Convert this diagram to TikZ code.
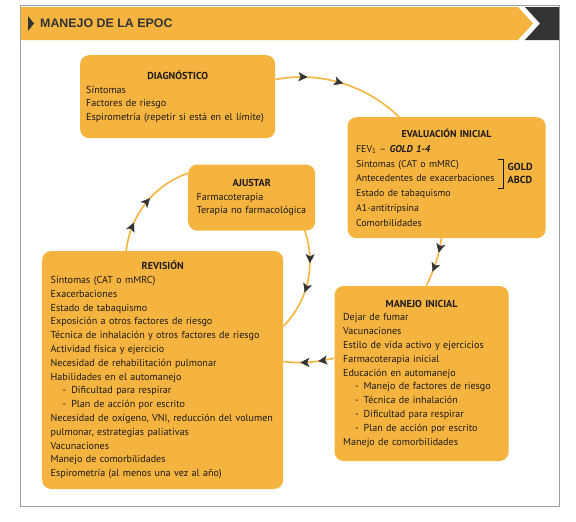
\documentclass[tikz,border=0pt]{standalone}
\usepackage{fontspec}
\setmainfont{PT Sans}
\newfontfamily\headfont{Liberation Sans}
\usepackage{xcolor}
\usetikzlibrary{arrows.meta, positioning, decorations.markings}

\definecolor{epocyellow}{HTML}{F5B43F}
\definecolor{epocdark}{HTML}{333333}
\definecolor{epoctext}{HTML}{1E1A18}
\definecolor{framegray}{HTML}{A0A0A0}

\newcommand{\subln}[1]{\hspace*{12pt}-\hspace{5pt}#1}
\newcommand{\boxtitle}[1]{{\centering\bfseries #1\par}}

\tikzset{
  box/.style={rectangle, rounded corners=9pt, fill=epocyellow, text=epoctext,
    anchor=north west, inner xsep=8.5pt, inner ysep=3pt, align=left,
    font=\fontsize{10.1}{13.8}\selectfont},
  cycline/.style={draw=epocyellow, line width=1.6pt},
  flow/.style 2 args={postaction={decorate}, decoration={markings,
    mark=at position #1 with {\arrow{Stealth[length=9pt, width=9pt, inset=2.2pt, line width=0.4pt, color=epocdark]}},
    mark=at position #2 with {\arrow{Stealth[length=9pt, width=9pt, inset=2.2pt, line width=0.4pt, color=epocdark]}}}},
  gold/.style={font=\bfseries\fontsize{10.2}{13}\selectfont, text=epoctext, align=left, inner sep=0pt}
}

\begin{document}
\begin{tikzpicture}[x=1pt, y=1pt]

    \fill[white] (0,0) rectangle (576,-522);
    \useasboundingbox (0,0) rectangle (576,-522);

    % header bar
    \draw[framegray, line width=0.8pt] (20,-5) rectangle (559,-506);
    \fill[epocyellow] (21,-7) -- (518,-7) -- (533,-23.5) -- (518,-40) -- (21,-40) -- cycle;
    \fill[epocdark] (525,-7) -- (559,-7) -- (559,-40) -- (525,-40) -- (540,-23.5) -- cycle;
    \fill[epocdark] (28,-16) -- (34,-23.5) -- (28,-31) -- cycle;
    \node[anchor=west, font=\headfont\bfseries\fontsize{12.4}{14}\selectfont, text=epocdark, inner sep=0pt] (title) at (40,-23.5) {MANEJO DE LA EPOC};

    \node[box, minimum width=195pt, minimum height=83pt, inner xsep=6pt, text width=183pt] (diag) at (80,-55)
        {\boxtitle{DIAGNÓSTICO}Síntomas\\Factores de riesgo\\Espirometría (repetir si está en el límite)};
    \node[box, minimum width=198pt, minimum height=121pt, text width=181pt, font=\fontsize{9.9}{14.8}\selectfont] (eval) [below right=62pt and 72pt of diag.north east]
        {\boxtitle{EVALUACIÓN INICIAL}FEV\textsubscript{1} – \textbf{\textit{GOLD 1-4}}\\Síntomas (CAT o mMRC)\\Antecedentes de exacerbaciones\\Estado de tabaquismo\\A1-antitripsina\\Comorbilidades};
    \node[gold] (gold) [left=13pt of eval.east, yshift=4pt] {GOLD\\ABCD};
    \node[box, minimum width=127pt, minimum height=66pt, text width=110pt] (ajust) [below right=26pt and 108pt of diag.south west]
        {\boxtitle{AJUSTAR}Farmacoterapia\\Terapia no farmacológica};
    \node[box, minimum width=241pt, minimum height=238pt, text width=224pt] (rev) [below left=20pt and 32pt of ajust.south east]
        {\boxtitle{REVISIÓN}Síntomas (CAT o mMRC)\\Exacerbaciones\\Estado de tabaquismo\\Exposición a otros factores de riesgo\\Técnica de inhalación y otros factores de riesgo\\Actividad física y ejercicio\\Necesidad de rehabilitación pulmonar\\Habilidades en el automanejo\\\subln{Dificultad para respirar}\\\subln{Plan de acción por escrito}\\Necesidad de oxígeno, VNI, reducción del volumen\\pulmonar, estrategias paliativas\\Vacunaciones\\Manejo de comorbilidades\\Espirometría (al menos una vez al año)};
    \node[box, minimum width=174pt, minimum height=175pt, text width=157pt] (manejo) [below right=35pt and 51pt of rev.north east]
        {\boxtitle{MANEJO INICIAL}Dejar de fumar\\Vacunaciones\\Estilo de vida activo y ejercicios\\Farmacoterapia inicial\\Educación en automanejo\\\subln{Manejo de factores de riesgo}\\\subln{Técnica de inhalación}\\\subln{Dificultad para respirar}\\\subln{Plan de acción por escrito}\\Manejo de comorbilidades};

    \draw[epoctext, line width=0.9pt] ([xshift=-10pt, yshift=14.5pt]gold.west) -| ([xshift=-4pt]gold.west) |- ([xshift=-10pt, yshift=-14.5pt]gold.west);

    \path[cycline]
        (diag.10) edge[out=11, in=136, looseness=0.9, flow={0.24}{0.51}] (eval.128)
        (eval.265) edge[out=-97, in=63, looseness=0.85, flow={0.29}{0.69}] (manejo.87)
        (manejo.170) edge[out=194, in=-7, looseness=0.85, flow={0.32}{0.67}] (rev.4)
        (rev.107) edge[out=84, in=199, looseness=0.92, flow={0.28}{0.56}] (ajust.159)
        (ajust.328) edge[out=-71, in=45, looseness=0.92, flow={0.32}{0.61}] (rev.20);

\end{tikzpicture}
\end{document}
